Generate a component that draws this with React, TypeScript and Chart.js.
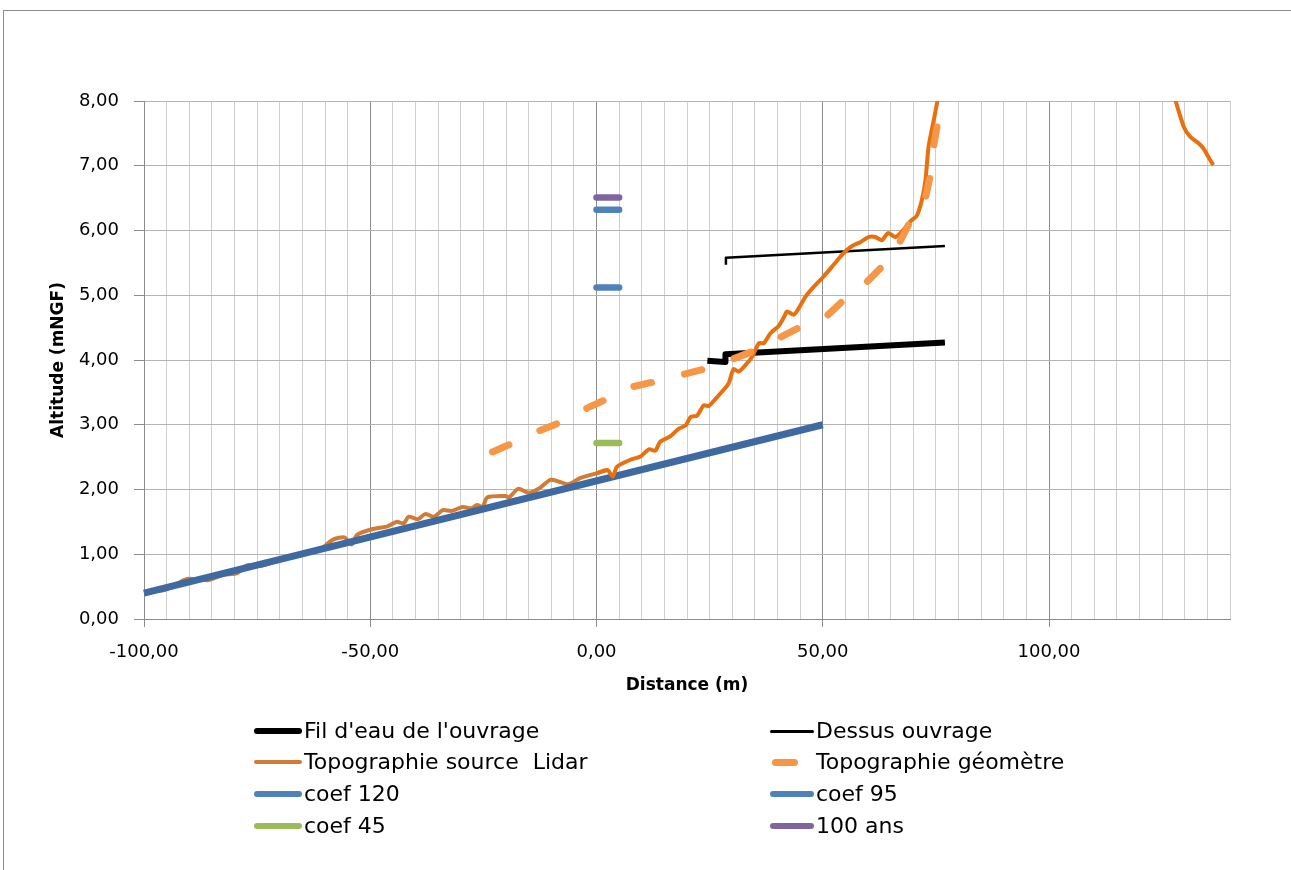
import React, { useEffect, useRef } from 'react';
import { Chart, registerables } from 'chart.js';

Chart.register(...registerables);

// ---- Data ----
const lidarX = [
  -100, -95.3, -90.5, -85.8, -82.6, -79.4, -77.1, -74.3, -69.9, -65.2, -61.2, -58.1, -55.7, -54.1, -52.9,
  -49.4, -46.2, -44.2, -42.6, -41.5, -39.5, -37.9, -35.9, -34.0, -32.0, -29.6, -27.6, -26.4, -25.2, -24.1,
  -20.1, -19.3, -17.3, -15.0, -12.6, -10.2, -8.2, -6.3, -3.5, 0.0, 2.4, 3.6, 4.5, 7.5, 9.7, 11.6, 13.0,
  14.1, 16.3, 18.2, 19.7, 20.8, 22.2, 23.7, 24.8, 26.7, 28.1, 29.2, 30.3, 31.4, 32.9, 34.4, 35.9, 37.0,
  38.4, 40.3, 41.5, 42.1, 43.6, 44.7, 46.2, 48.0, 50.2, 52.4, 54.6, 56.5, 58.3, 60.2, 61.6, 63.1, 64.4,
  66.1, 67.7, 69.5, 70.8, 71.9, 72.7, 73.4, 74.4, 75.4, 76.5, 126.0, 127.9, 129.8, 131.2, 133.0, 134.1,
  135.2, 136.3,
];
const lidarY = [
  0.42, 0.45, 0.62, 0.60, 0.68, 0.71, 0.83, 0.82, 0.91, 1.00, 1.07, 1.23, 1.26, 1.15, 1.30,
  1.39, 1.43, 1.50, 1.48, 1.58, 1.54, 1.62, 1.58, 1.68, 1.67, 1.73, 1.71, 1.76, 1.73, 1.88,
  1.90, 1.88, 2.01, 1.95, 2.02, 2.15, 2.12, 2.08, 2.18, 2.25, 2.30, 2.20, 2.35, 2.46, 2.51, 2.62, 2.60,
  2.74, 2.82, 2.94, 2.99, 3.12, 3.14, 3.30, 3.29, 3.43, 3.54, 3.64, 3.86, 3.82, 3.92, 4.05, 4.26, 4.26,
  4.41, 4.53, 4.67, 4.75, 4.70, 4.80, 4.98, 5.13, 5.29, 5.47, 5.65, 5.76, 5.82, 5.90, 5.90, 5.85, 5.96,
  5.90, 6.00, 6.15, 6.23, 6.47, 6.78, 7.30, 7.66, 8.02, 8.45, 8.45, 8.02, 7.60, 7.45, 7.35, 7.27,
  7.14, 7.01,
];
const geoX = [-23.0, -17.7, -12.2, -7.5, -2.0, 3.0, 8.2, 13.8, 19.3, 24.4, 29.6, 35.5, 40.3, 45.1, 50.6, 55.0, 59.8, 63.5, 67.0, 69.7, 72.7, 73.8, 74.5, 75.4, 76.3];
const geoY = [2.58, 2.74, 2.92, 3.05, 3.26, 3.42, 3.59, 3.68, 3.78, 3.87, 4.00, 4.16, 4.34, 4.51, 4.66, 4.95, 5.21, 5.47, 5.82, 6.19, 6.50, 6.86, 7.30, 7.66, 8.10];
const filEauX = [24.5, 28.4, 28.5, 77.0];
const filEauY = [3.99, 3.97, 4.09, 4.27];
const dessusX = [28.6, 28.6, 77.0];
const dessusY = [5.47, 5.58, 5.76];
const penteX = [-100, 50];
const penteY = [0.40, 3.00];
const segmentX = [0, 5];
const coef120Level = 6.32;
const coef95Level = 5.12;
const coef45Level = 2.72;
const centAnsLevel = 6.51;

const xMin = -100;
const xMax = 140;
const xStep = 5;
const xLabelStep = 50;
const yMin = 0;
const yMax = 8;
const yStep = 1;

const FONT = "'DejaVu Sans', sans-serif";

const fmt = (v: number) => v.toFixed(2).replace('.', ',');
const pts = (xs: number[], ys: number[]) => xs.map((x, i) => ({ x, y: ys[i] }));
const flat = (xs: number[], level: number) => xs.map((x) => ({ x, y: level }));

const brownEnd = lidarX.indexOf(2.4) + 1;
const vividStart = lidarX.indexOf(0.0);

const legendItems = [
  { label: "Fil d'eau de l'ouvrage", color: '#000000', h: 6, col: 0, row: 0 },
  { label: 'Dessus ouvrage', color: '#000000', h: 3, col: 1, row: 0 },
  { label: 'Topographie source  Lidar', color: '#cf7b36', h: 4, col: 0, row: 1 },
  { label: 'Topographie géomètre', color: '#f79646', h: 7, col: 1, row: 1, dash: true },
  { label: 'coef 120', color: '#4f81bd', h: 6, col: 0, row: 2 },
  { label: 'coef 95', color: '#4f81bd', h: 6, col: 1, row: 2 },
  { label: 'coef 45', color: '#9bbb59', h: 6, col: 0, row: 3 },
  { label: '100 ans', color: '#8064a2', h: 6, col: 1, row: 3 },
];

export default function App() {
  const ref = useRef<HTMLCanvasElement | null>(null);

  useEffect(() => {
    if (!ref.current) return;
    const line = (extra: any) => ({
      showLine: true,
      pointRadius: 0,
      fill: false,
      borderJoinStyle: 'round',
      clip: { left: 4, right: 4, top: 0, bottom: 4 },
      ...extra,
    });
    const chart = new Chart(ref.current, {
      type: 'scatter',
      data: {
        datasets: [
          line({ label: 'lidar-brown', data: pts(lidarX.slice(0, brownEnd), lidarY.slice(0, brownEnd)), borderColor: '#d27b35', borderWidth: 4, tension: 0.25, order: 10 }),
          line({ label: 'pente', data: pts(penteX, penteY), borderColor: '#3e6aa1', borderWidth: 7, order: 9 }),
          line({ label: "Fil d'eau de l'ouvrage", data: pts(filEauX, filEauY), borderColor: '#000000', borderWidth: 6, order: 8 }),
          line({ label: 'Dessus ouvrage', data: pts(dessusX, dessusY), borderColor: '#000000', borderWidth: 2.5, order: 7 }),
          line({ label: 'Topographie source  Lidar', data: pts(lidarX.slice(vividStart), lidarY.slice(vividStart)), borderColor: '#e8700e', borderWidth: 4, tension: 0.25, order: 6 }),
          line({ label: 'Topographie géomètre', data: pts(geoX, geoY), borderColor: '#f79646', borderWidth: 7, borderDash: [18, 34], borderCapStyle: 'round', order: 5 }),
          line({ label: 'coef 120', data: flat(segmentX, coef120Level), borderColor: '#4f81bd', borderWidth: 6.5, borderCapStyle: 'round', order: 4 }),
          line({ label: 'coef 95', data: flat(segmentX, coef95Level), borderColor: '#4f81bd', borderWidth: 6.5, borderCapStyle: 'round', order: 3 }),
          line({ label: 'coef 45', data: flat(segmentX, coef45Level), borderColor: '#9bbb59', borderWidth: 6.5, borderCapStyle: 'round', order: 2 }),
          line({ label: '100 ans', data: flat(segmentX, centAnsLevel), borderColor: '#8064a2', borderWidth: 6.5, borderCapStyle: 'round', order: 1 }),
        ],
      },
      options: {
        responsive: false,
        animation: false,
        devicePixelRatio: 1,
        layout: { padding: { left: 0, top: 101, right: 61, bottom: 151 } },
        plugins: { legend: { display: false }, tooltip: { enabled: false } },
        scales: {
          x: {
            type: 'linear',
            min: xMin,
            max: xMax,
            afterFit: (s: any) => { s.height = 100; },
            ticks: {
              stepSize: xStep,
              autoSkip: false,
              maxRotation: 0,
              padding: 15,
              color: '#000000',
              font: { family: FONT, size: 18 },
              callback: (v: any) => (Math.round(v) % xLabelStep === 0 ? fmt(Number(v)) : ''),
            },
            grid: {
              color: (c: any) => (Math.round(c.tick.value) % xLabelStep === 0 ? '#8c8c8c' : '#cfcfcf'),
              tickColor: (c: any) => (Math.round(c.tick.value) % xLabelStep === 0 ? '#8c8c8c' : 'rgba(0,0,0,0)'),
              tickLength: 8,
              lineWidth: 1,
            },
            border: { color: '#8c8c8c' },
            title: {
              display: true,
              text: 'Distance (m)',
              color: '#000000',
              font: { family: FONT, size: 17, weight: 'bold' },
              padding: { top: 0, bottom: 23 },
            },
          },
          y: {
            min: yMin,
            max: yMax,
            afterFit: (s: any) => { s.width = 144; },
            ticks: {
              stepSize: yStep,
              padding: 15,
              color: '#000000',
              font: { family: FONT, size: 18 },
              callback: (v: any) => fmt(Number(v)),
            },
            grid: { color: '#b4b4b4', tickColor: '#8c8c8c', tickLength: 10, lineWidth: 1 },
            border: { color: '#8c8c8c' },
            title: {
              display: true,
              text: 'Altitude (mNGF)',
              color: '#000000',
              font: { family: FONT, size: 17, weight: 'bold' },
              padding: { top: 48, bottom: 0 },
            },
          },
        },
      } as any,
    });
    return () => chart.destroy();
  }, []);

  const rowY = [731, 762, 794, 826];
  const swLeft = [254, 770];
  const swWidth = [48, 44];
  const txtLeft = [304, 816];

  return (
    <div style={{ position: 'absolute', left: 0, top: 0, width: 1291, height: 870, overflow: 'hidden', background: '#fff' }}>
      <div style={{ position: 'absolute', left: 3, top: 10, width: 1320, height: 900, border: '1px solid #8c8c8c', boxSizing: 'border-box' }} />
      <canvas ref={ref} width={1291} height={870} style={{ position: 'absolute', left: 0, top: 0, width: 1291, height: 870 }} />
      {legendItems.map((it, i) => {
        const cy = rowY[it.row];
        const w = it.dash ? 26 : swWidth[it.col];
        const l = it.dash ? 772 : swLeft[it.col];
        return (
          <React.Fragment key={i}>
            <div style={{ position: 'absolute', left: l, top: cy - it.h / 2, width: w, height: it.h, borderRadius: it.h / 2, background: it.color }} />
            <div style={{ position: 'absolute', left: txtLeft[it.col], top: cy - 13, fontFamily: FONT, fontSize: 22, lineHeight: '26px', whiteSpace: 'pre', color: '#000' }}>
              {it.label}
            </div>
          </React.Fragment>
        );
      })}
    </div>
  );
}
